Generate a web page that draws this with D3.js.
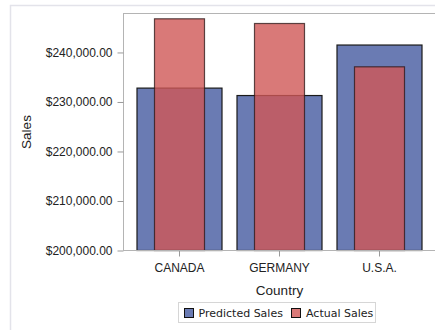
<!DOCTYPE html>
<html>
<head>
<meta charset="utf-8">
<script src="https://cdn.jsdelivr.net/npm/d3@7"></script>
<style>
  html, body { margin: 0; padding: 0; background: #fff; }
  svg { display: block; }
</style>
</head>
<body>
<svg id="chart" width="435" height="330"></svg>
<script>
const countries = ["CANADA", "GERMANY", "U.S.A."];
const predictedSales = [232800, 231300, 241500];
const actualSales = [246800, 245850, 237100];
const yTicks = [200000, 210000, 220000, 230000, 240000];
const seriesNames = ["Predicted Sales", "Actual Sales"];

const svg = d3.select("#chart");
const W = 435, H = 330;
const plot = { left: 123, top: 13.5, right: 436, bottom: 250.5 };

// outer frame (extends past the crop)
svg.append("rect")
  .attr("x", 10.5).attr("y", 5.5)
  .attr("width", 500).attr("height", 400)
  .attr("fill", "#fff")
  .attr("stroke", "#e3e3ea").attr("stroke-width", 1.5);

const x = d3.scaleBand()
  .domain(countries)
  .range([plot.left, plot.right])
  .paddingInner(0)
  .paddingOuter(0.065);

const y = d3.scaleLinear()
  .domain([200000, 247870])
  .range([plot.bottom, plot.top]);

const blue = "#6a7bb3";
const red = "rgb(208,88,86)";

// predicted bars
const predW = x.bandwidth() * 0.85;
svg.append("g").selectAll("rect")
  .data(countries)
  .join("rect")
  .attr("x", (d) => x(d) + x.bandwidth() / 2 - predW / 2)
  .attr("y", (d, i) => y(predictedSales[i]))
  .attr("width", predW)
  .attr("height", (d, i) => y(200000) - y(predictedSales[i]))
  .attr("fill", blue)
  .attr("stroke", "#1a1a1a").attr("stroke-width", 1.2);

// actual bars
const actW = x.bandwidth() * 0.5;
svg.append("g").selectAll("rect")
  .data(countries)
  .join("rect")
  .attr("x", (d) => x(d) + x.bandwidth() / 2 - actW / 2)
  .attr("y", (d, i) => y(actualSales[i]))
  .attr("width", actW)
  .attr("height", (d, i) => y(200000) - y(actualSales[i]))
  .attr("fill", red).attr("fill-opacity", 0.8)
  .attr("stroke", "#2a1414").attr("stroke-opacity", 0.75).attr("stroke-width", 1.2);

// plot frame lines
const frameColor = "#b4b4b4";
svg.append("line").attr("x1", plot.left + 0.5).attr("x2", plot.left + 0.5)
  .attr("y1", plot.top).attr("y2", plot.bottom).attr("stroke", frameColor);
svg.append("line").attr("x1", plot.left).attr("x2", W)
  .attr("y1", plot.top).attr("y2", plot.top).attr("stroke", frameColor);

// y axis
const yAxis = d3.axisLeft(y)
  .tickValues(yTicks)
  .tickSize(6)
  .tickPadding(5)
  .tickFormat((d) => "$" + d3.format(",.2f")(d));
const gy = svg.append("g").attr("transform", `translate(${plot.left + 0.5},0)`).call(yAxis);
gy.select(".domain").remove();
gy.selectAll(".tick line").attr("stroke", "#9a9a9a");
gy.selectAll(".tick text")
  .attr("fill", "#222")
  .style("font-family", "'Liberation Sans', Arial, sans-serif")
  .style("font-size", "12px");

// x axis
const xAxis = d3.axisBottom(x).tickSize(6).tickPadding(7);
const gx = svg.append("g").attr("transform", `translate(0,${plot.bottom})`).call(xAxis);
gx.select(".domain").remove();
gx.append("line").attr("x1", plot.left).attr("x2", W).attr("y1", 0).attr("y2", 0)
  .attr("stroke", frameColor);
gx.selectAll(".tick line").attr("stroke", "#9a9a9a");
gx.selectAll(".tick text")
  .attr("fill", "#222")
  .style("font-family", "'Liberation Sans', Arial, sans-serif")
  .style("font-size", "12px");

// axis titles
svg.append("text")
  .attr("transform", `translate(31,${(plot.top + plot.bottom) / 2}) rotate(-90)`)
  .attr("text-anchor", "middle")
  .attr("fill", "#222")
  .style("font-family", "'Liberation Sans', Arial, sans-serif")
  .style("font-size", "13.5px")
  .text("Sales");

svg.append("text")
  .attr("x", x("GERMANY") + x.bandwidth() / 2)
  .attr("y", 295)
  .attr("text-anchor", "middle")
  .attr("fill", "#222")
  .style("font-family", "'Liberation Sans', Arial, sans-serif")
  .style("font-size", "13.5px")
  .text("Country");

// legend
const lg = svg.append("g");
lg.append("rect").attr("x", 178.5).attr("y", 302.5).attr("width", 197).attr("height", 20)
  .attr("fill", "#fff").attr("stroke", "#d6d6d6");
const legendItems = [
  { name: seriesNames[0], sx: 184.5, tx: 198.5, fill: blue, op: 1 },
  { name: seriesNames[1], sx: 291.5, tx: 306, fill: red, op: 0.8 }
];
legendItems.forEach((it) => {
  lg.append("rect").attr("x", it.sx).attr("y", 308.5).attr("width", 9).attr("height", 9)
    .attr("fill", it.fill).attr("fill-opacity", it.op).attr("stroke", "#111");
  lg.append("text").attr("x", it.tx).attr("y", 317)
    .attr("fill", "#222")
    .style("font-family", "'DejaVu Sans', sans-serif")
    .style("font-size", "11px")
    .text(it.name);
});
</script>
</body>
</html>
